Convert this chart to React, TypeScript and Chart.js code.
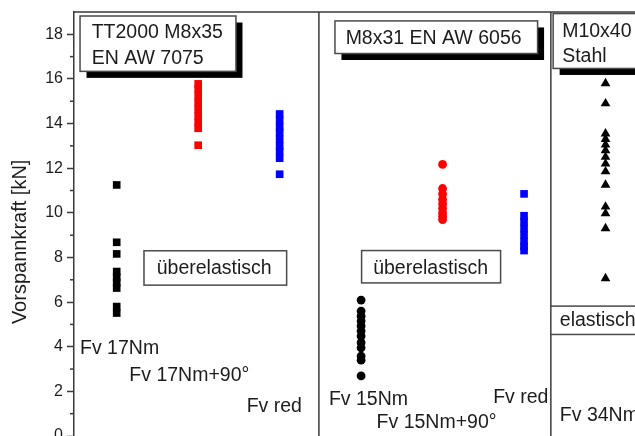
import React, { useEffect, useRef } from "react";
import { Chart, registerables } from "chart.js";

Chart.register(...registerables);

// ---- data ----
const groupNames = [
  "Fv 17Nm",
  "Fv 17Nm+90°",
  "Fv red",
  "Fv 15Nm",
  "Fv 15Nm+90°",
  "Fv red",
  "Fv 34Nm",
];
const groupPositions = [1, 2, 3, 4, 5, 6, 7];

const fv17Nm = [11.25, 8.68, 8.16, 7.37, 7.12, 6.88, 6.63, 5.8, 5.51];
const fv17Nm90 = [15.78, 15.55, 15.25, 14.95, 14.65, 14.35, 14.05, 13.79, 13.03];
const fvRed17 = [14.43, 14.15, 13.85, 13.6, 13.3, 13.0, 12.75, 12.45, 11.73];

const fv15Nm = [6.09, 5.6, 5.37, 5.15, 4.93, 4.7, 4.48, 4.18, 3.95, 3.58, 3.4, 2.69];
const fv15Nm90 = [12.17, 11.09, 10.85, 10.6, 10.4, 10.2, 10.0, 9.85, 9.7];
const fvRed15 = [10.85, 9.87, 9.6, 9.3, 9.0, 8.7, 8.5, 8.31];

const fv34Nm = [15.8, 14.9, 13.55, 13.3, 13.05, 12.8, 12.5, 12.2, 11.85, 11.25, 10.27, 9.97, 9.3, 7.06];

const yTickValues = [0, 2, 4, 6, 8, 10, 12, 14, 16, 18];
const yMinorTickValues = [1, 3, 5, 7, 9, 11, 13, 15, 17];
const panelDividers = [3.482, 6.329];
const yAxisTitle = "Vorspannkraft [kN]";

// ---- annotation layout (data units) ----
const boxes = [
  { x1: 0.55, x2: 2.464, y1: 18.82, y2: 16.34, shadow: true,
    lines: [{ t: "TT2000 M8x35", x: 0.693, y: 17.83 }, { t: "EN AW 7075", x: 0.693, y: 16.69 }] },
  { x1: 1.335, x2: 3.086, y1: 8.3, y2: 6.76, shadow: false,
    lines: [{ t: "überelastisch", x: 1.491, y: 7.24 }] },
  { x1: 3.679, x2: 6.166, y1: 18.6, y2: 17.14, shadow: true,
    lines: [{ t: "M8x31 EN AW 6056", x: 3.81, y: 17.58 }] },
  { x1: 4.006, x2: 5.712, y1: 8.31, y2: 6.86, shadow: false,
    lines: [{ t: "überelastisch", x: 4.148, y: 7.28 }] },
  { x1: 6.357, x2: 8.3, y1: 18.93, y2: 16.47, shadow: true,
    lines: [{ t: "M10x40", x: 6.468, y: 17.88 }, { t: "Stahl", x: 6.468, y: 16.77 }] },
  { x1: 6.329, x2: 8.3, y1: 5.82, y2: 4.55, shadow: false,
    lines: [{ t: "elastisch", x: 6.439, y: 4.93 }] },
];

const groupLabelPos = [
  { x: 0.55, y: 3.685 },
  { x: 1.155, y: 2.463 },
  { x: 2.595, y: 1.075 },
  { x: 3.605, y: 1.375 },
  { x: 4.19, y: 0.372 },
  { x: 5.621, y: 1.491 },
  { x: 6.439, y: 0.672 },
];

const FONT = '"Liberation Sans", Arial, Helvetica, sans-serif';
const TEXT_COLOR = "#1c1c1c";
const LINE_COLOR = "#3a3a3a";

const overlayPlugin = {
  id: "overlay",
  beforeDatasetsDraw(chart: any) {
    const { ctx, chartArea, scales } = chart;
    const x = scales.x;
    const y = scales.y;
    ctx.save();
    ctx.strokeStyle = LINE_COLOR;
    ctx.lineWidth = 1.5;
    ctx.beginPath();
    ctx.moveTo(chartArea.left - 0.75, chartArea.top);
    ctx.lineTo(chartArea.right, chartArea.top);
    ctx.stroke();
    panelDividers.forEach((d) => {
      const px = x.getPixelForValue(d);
      ctx.beginPath();
      ctx.moveTo(px, chartArea.top);
      ctx.lineTo(px, chartArea.bottom + 20);
      ctx.stroke();
    });
    yMinorTickValues.forEach((v) => {
      const py = y.getPixelForValue(v);
      ctx.beginPath();
      ctx.moveTo(chartArea.left - 4, py);
      ctx.lineTo(chartArea.left, py);
      ctx.stroke();
    });
    // y axis title
    ctx.fillStyle = TEXT_COLOR;
    ctx.font = `20px ${FONT}`;
    ctx.textAlign = "center";
    ctx.textBaseline = "middle";
    ctx.translate(20, y.getPixelForValue(8.7));
    ctx.rotate(-Math.PI / 2);
    ctx.fillText(yAxisTitle, 0, 0);
    ctx.restore();
  },
  afterDatasetsDraw(chart: any) {
    const { ctx, scales } = chart;
    const x = scales.x;
    const y = scales.y;
    ctx.save();
    ctx.font = `19.5px ${FONT}`;
    ctx.textAlign = "left";
    ctx.textBaseline = "alphabetic";
    boxes.forEach((b) => {
      const l = x.getPixelForValue(b.x1);
      const r = x.getPixelForValue(b.x2);
      const t = y.getPixelForValue(b.y1);
      const bt = y.getPixelForValue(b.y2);
      if (b.shadow) {
        ctx.fillStyle = "#000";
        ctx.fillRect(l + 6.5, t + 6.5, r - l, bt - t);
      }
      ctx.fillStyle = "#fff";
      ctx.fillRect(l, t, r - l, bt - t);
      ctx.strokeStyle = "#4a4a4a";
      ctx.lineWidth = 1.5;
      ctx.strokeRect(l, t, r - l, bt - t);
      ctx.fillStyle = TEXT_COLOR;
      b.lines.forEach((ln) => {
        ctx.fillText(ln.t, x.getPixelForValue(ln.x), y.getPixelForValue(ln.y));
      });
    });
    ctx.fillStyle = TEXT_COLOR;
    groupNames.forEach((name, i) => {
      const p = groupLabelPos[i];
      ctx.fillText(name, x.getPixelForValue(p.x), y.getPixelForValue(p.y));
    });
    ctx.restore();
  },
};

function series(values: number[], pos: number) {
  return values.map((v) => ({ x: pos, y: v }));
}

export default function App() {
  const canvasRef = useRef<HTMLCanvasElement | null>(null);

  useEffect(() => {
    if (!canvasRef.current) return;
    const mk = (values: number[], gi: number, color: string, style: string, radius: number) => ({
      label: groupNames[gi],
      data: series(values, groupPositions[gi]),
      pointStyle: style,
      pointRadius: radius,
      pointHoverRadius: radius,
      backgroundColor: color,
      borderColor: color,
      borderWidth: 0,
      showLine: false,
    });
    const chart = new Chart(canvasRef.current, {
      type: "scatter",
      data: {
        datasets: [
          mk(fv17Nm, 0, "#000000", "rect", 5.4),
          mk(fv17Nm90, 1, "#ff0000", "rect", 5.4),
          mk(fvRed17, 2, "#0000ff", "rect", 5.4),
          mk(fv15Nm, 3, "#000000", "circle", 4.4),
          mk(fv15Nm90, 4, "#ff0000", "circle", 4.4),
          mk(fvRed15, 5, "#0000ff", "rect", 5.4),
          mk(fv34Nm, 6, "#000000", "triangle", 5.6),
        ] as any,
      },
      options: {
        responsive: false,
        animation: false,
        events: [],
        layout: { padding: { top: 12, bottom: 10, left: 0, right: 13 } },
        plugins: { legend: { display: false }, tooltip: { enabled: false }, title: { display: false } },
        scales: {
          x: { type: "linear", min: 0.476, max: 8, display: false },
          y: {
            type: "linear",
            min: 0,
            max: 19,
            afterBuildTicks: (scale: any) => {
              scale.ticks = yTickValues.map((v) => ({ value: v }));
            },
            afterFit: (scale: any) => {
              scale.width = 74;
              scale.paddingTop = 0;
              scale.paddingBottom = 0;
            },
            ticks: {
              includeBounds: false,
              padding: 4,
              color: TEXT_COLOR,
              font: { family: FONT, size: 16 },
            },
            grid: {
              drawOnChartArea: false,
              drawTicks: true,
              tickLength: 7,
              tickColor: LINE_COLOR,
              tickWidth: 1.5,
            },
            border: { display: true, color: LINE_COLOR, width: 1.5 },
          },
        },
      } as any,
      plugins: [overlayPlugin],
    });
    return () => chart.destroy();
  }, []);

  return (
    <div
      style={{
        position: "fixed",
        left: 0,
        top: 0,
        width: 635,
        height: 436,
        overflow: "hidden",
        background: "#fff",
      }}
    >
      <canvas ref={canvasRef} width={700} height={446} style={{ display: "block" }} />
    </div>
  );
}
